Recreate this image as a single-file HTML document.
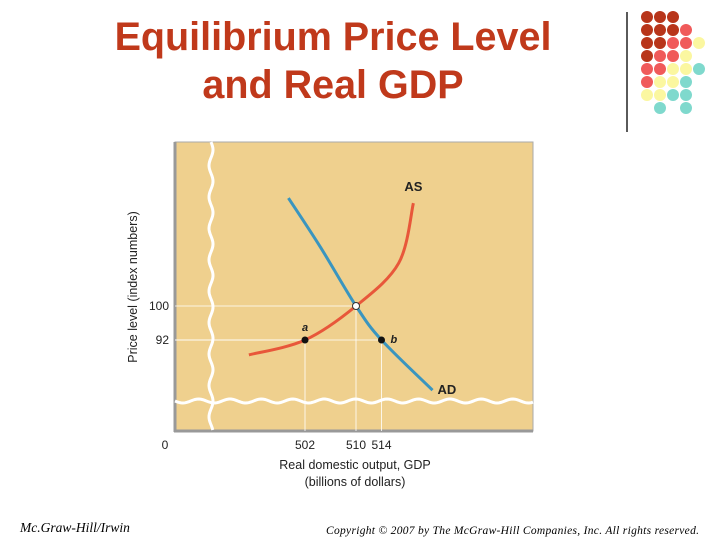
<!DOCTYPE html>
<html><head><meta charset="utf-8"><style>
body{margin:0;width:720px;height:540px;background:#fff;overflow:hidden;position:relative;font-family:"Liberation Sans",sans-serif}
.t{position:absolute;left:0;width:666px;text-align:center;color:#c0391b;font-weight:bold;font-size:39.5px;line-height:48px}
</style></head><body>
<div class="t" style="top:13px">Equilibrium Price Level<br>and Real GDP</div>
<svg width="720" height="540" style="position:absolute;left:0;top:0" id="svg">
<line x1="627" y1="12" x2="627" y2="132" stroke="#000" stroke-width="1.3"/>
<g id="dots"></g>
<g id="chart"></g>
<text x="20" y="532" font-family="Liberation Serif,serif" font-style="italic" font-size="13.5">Mc.Graw-Hill/Irwin</text>
<text x="326" y="534" font-family="Liberation Serif,serif" font-style="italic" font-size="11.5" textLength="373">Copyright © 2007 by The McGraw-Hill Companies, Inc. All rights reserved.</text>
</svg>
<script>
const asX=[493.2,502,510,516.7,519];
const asY=[88.5,92,100,110.1,124.2];
const adX=[499.4,504.4,510,514,522];
const adY=[125.4,113.9,100,92,80.2];
const xTicks=[502,510,514];
const yTicks=[92,100];
const eqX=510,eqY=100;
const ptA=[502,92],ptB=[514,92];

const NS="http://www.w3.org/2000/svg";
const g=document.getElementById('chart');
function el(t,a,p){const e=document.createElementNS(NS,t);for(const k in a)e.setAttribute(k,a[k]);(p||g).appendChild(e);return e;}
const xs=v=>305+(v-502)*6.375;
const ys=v=>340-(v-92)*4.25;
let bg=el('rect',{x:175,y:142,width:358,height:289,fill:'#efd08e',stroke:'#aaa','stroke-width':1});

el('line',{x1:175,y1:142,x2:175,y2:432,stroke:'#999','stroke-width':3});
el('line',{x1:174,y1:431,x2:533,y2:431,stroke:'#999','stroke-width':3});
for(const [x,y] of [ptA,ptB,[eqX,eqY]]){
  el('line',{x1:xs(x),y1:ys(y),x2:xs(x),y2:431,stroke:'#fff','stroke-width':0.8});
  el('line',{x1:175,y1:ys(y),x2:xs(x),y2:ys(y),stroke:'#fff','stroke-width':0.8});
}
let d='M211 142';for(let y=142;y<=431;y+=2)d+=' L'+(211+2*Math.sin((y-142)/5))+' '+y;
let w1=el('path',{d,fill:'none',stroke:'#fff','stroke-width':3});
d='M175 401';for(let x=175;x<=533;x+=2)d+=' L'+x+' '+(401+2*Math.sin((x-175)/5));
let w2=el('path',{d,fill:'none',stroke:'#fff','stroke-width':3});
function curve(X,Y){const P=X.map((x,i)=>[xs(x),ys(Y[i])]);let s='M'+P[0];for(let i=0;i<P.length-1;i++){const p0=P[i-1]||P[i],p1=P[i],p2=P[i+1],p3=P[i+2]||p2;
 s+=' C'+(p1[0]+(p2[0]-p0[0])/6)+' '+(p1[1]+(p2[1]-p0[1])/6)+' '+(p2[0]-(p3[0]-p1[0])/6)+' '+(p2[1]-(p3[1]-p1[1])/6)+' '+p2;}return s;}
let as=el('path',{d:curve(asX,asY),fill:'none',stroke:'#e8573a','stroke-width':3});

let ad=el('path',{d:curve(adX,adY),fill:'none',stroke:'#3a95bf','stroke-width':3});

let eq=el('circle',{cx:xs(eqX),cy:ys(eqY),r:3.5,fill:'#fff',stroke:'#333','stroke-width':1});

let pa=el('circle',{cx:xs(ptA[0]),cy:ys(ptA[1]),r:3.5,fill:'#111'});
let pb=el('circle',{cx:xs(ptB[0]),cy:ys(ptB[1]),r:3.5,fill:'#111'});
function txt(x,y,s,a,n){const e=el('text',Object.assign({x,y,'font-size':12,fill:'#222'},a||{}));e.textContent=s;return e;}
txt(xs(ptA[0]),ys(ptA[1])-9,'a',{'font-style':'italic','font-weight':'bold','text-anchor':'middle','font-size':11},'label-a');
txt(xs(ptB[0])+9,ys(ptB[1])+3,'b',{'font-style':'italic','font-weight':'bold','font-size':11},'label-b');
txt(xs(asX[asX.length-1])-9,191,'AS',{'font-weight':'bold','font-size':13},'as-label');
txt(xs(adX[adX.length-1])+5,ys(adY[adY.length-1])+4,'AD',{'font-weight':'bold','font-size':13},'ad-label');
xTicks.forEach(v=>txt(xs(v),449,String(v),{'text-anchor':'middle'},'x-tick-'+v));
yTicks.forEach(v=>txt(169,ys(v)+4,String(v),{'text-anchor':'end'},'y-tick-'+v));
txt(165,449,'0',{'text-anchor':'middle'},'origin-label');
txt(355,469,'Real domestic output, GDP',{'text-anchor':'middle','font-size':12.5},'x-axis-title');
txt(355,486,'(billions of dollars)',{'text-anchor':'middle','font-size':12.5},'x-axis-subtitle');
txt(0,0,'Price level (index numbers)',{'text-anchor':'middle','font-size':12.5,transform:'translate(137,287) rotate(-90)'},'y-axis-title');
const C={D:'#b8351a',R:'#f05a5a',Y:'#fbf7a0',T:'#7fd9cd'};
const rows=['DDD','DDDR','DDRRY','DRRY','RRYYT','RYYT','YYTT',' T T'];
const dg=document.getElementById('dots');
rows.forEach((r,i)=>[...r].forEach((c,j)=>{if(c===' ')return;el('circle',{cx:647+j*13,cy:17+i*13,r:6,fill:C[c]},dg);}));
</script>
</body></html>
